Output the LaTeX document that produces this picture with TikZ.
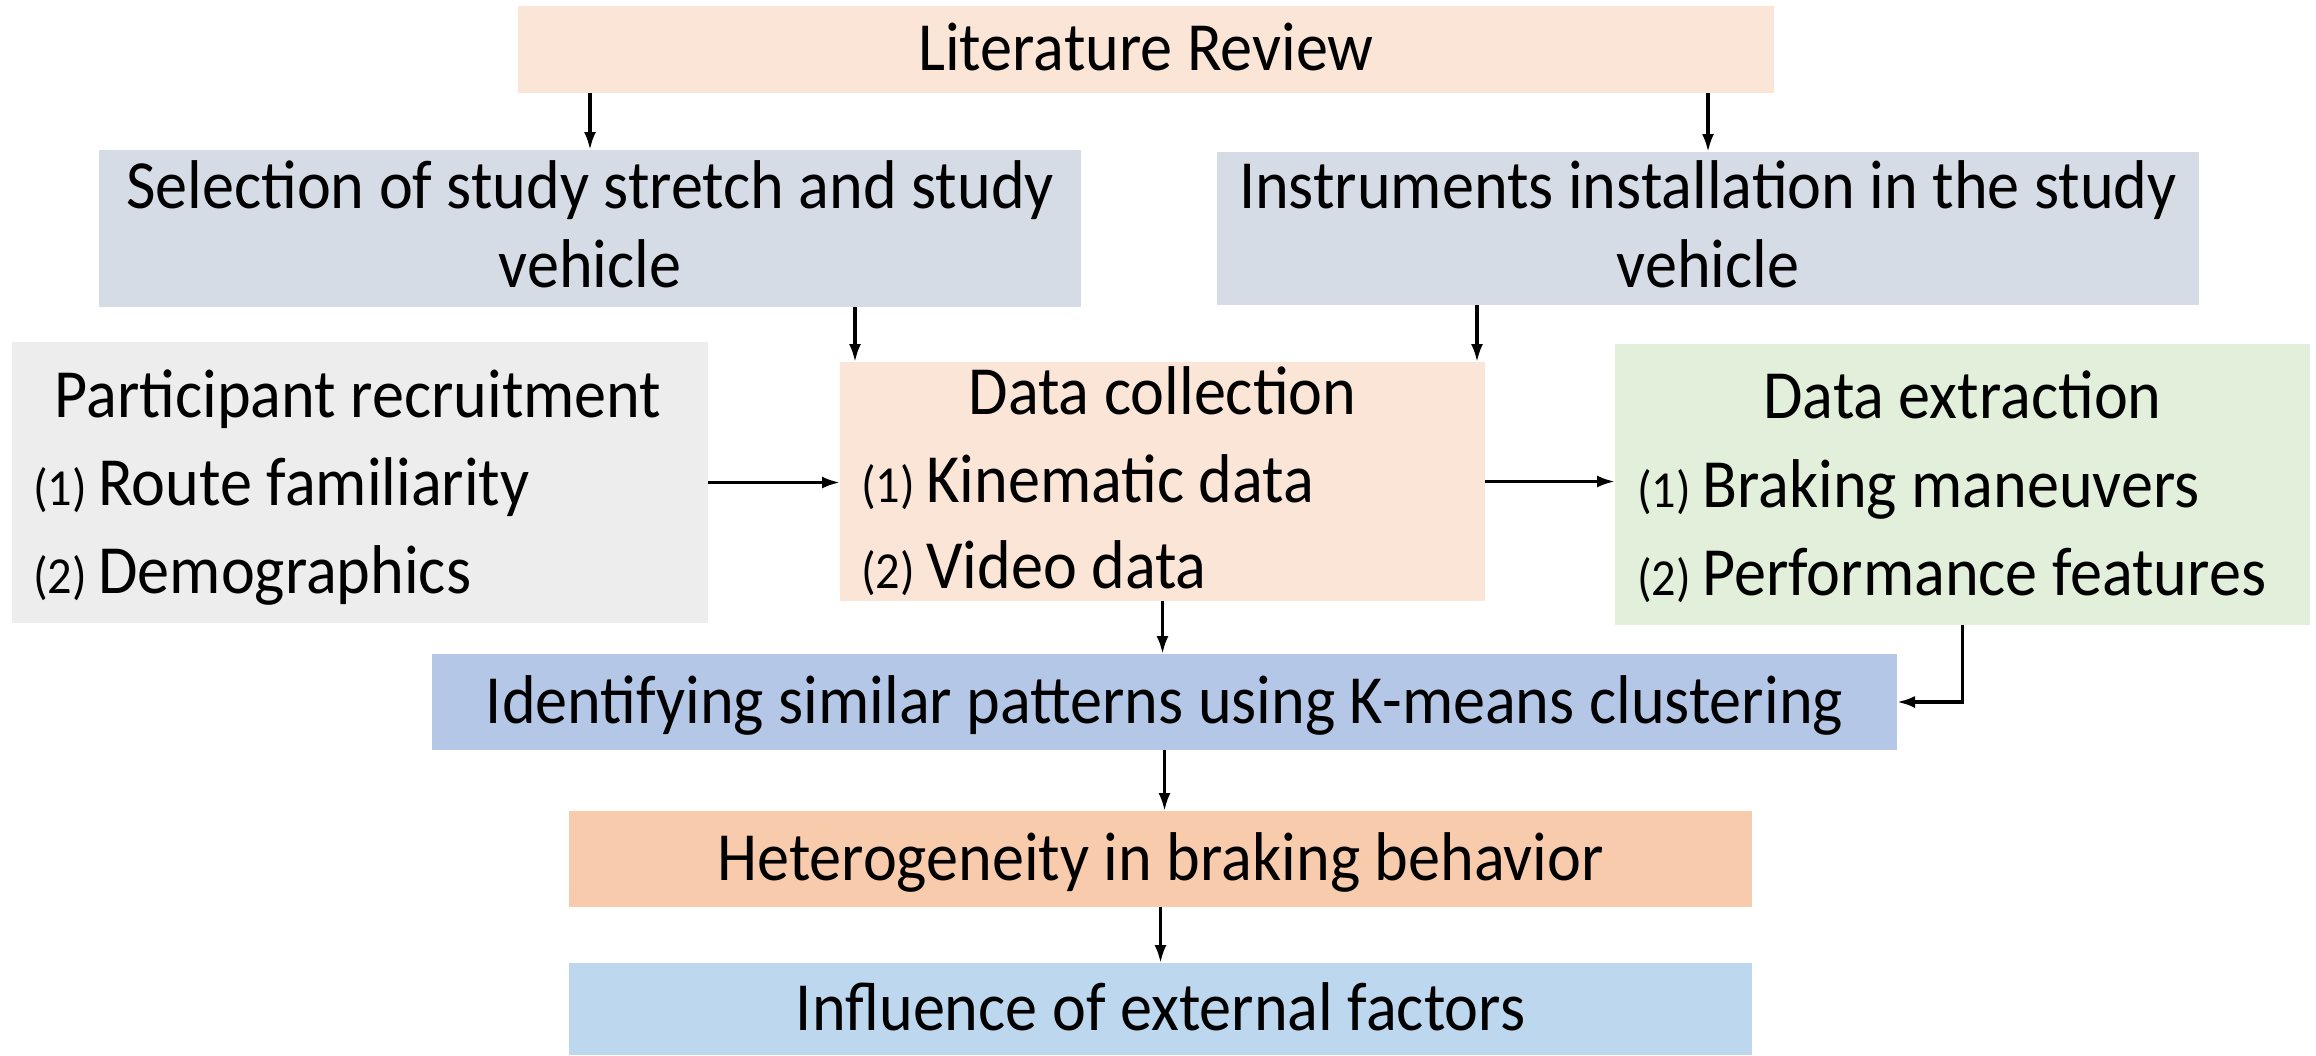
\documentclass[tikz,border=0pt]{standalone}
\usepackage{fontspec}
\setmainfont{Carlito}[FakeStretch=0.93]
\usetikzlibrary{arrows.meta}
\definecolor{cpeach}{HTML}{FBE5D6}
\definecolor{cgreyblue}{HTML}{D6DCE5}
\definecolor{cgrey}{HTML}{EDEDED}
\definecolor{cgreen}{HTML}{E2EFDA}
\definecolor{cblue}{HTML}{B4C7E7}
\definecolor{corange}{HTML}{F8CBAD}
\definecolor{clightblue}{HTML}{BDD7EE}
\newcommand{\mainsize}{\fontsize{34.5pt}{39.5pt}\selectfont}
\newcommand{\numsize}{\fontsize{26pt}{26pt}\selectfont}
\newcommand{\itm}[2]{{\numsize(#1)}\,#2}
\begin{document}
\begin{tikzpicture}[x=0.5pt,y=-0.5pt,
  box/.style={draw=none,inner sep=0pt,outer sep=0pt,rectangle},
  txt/.style={inner sep=0pt,outer sep=0pt,font=\mainsize},
  arr/.style={draw=black,line width=1.6pt,-{Latex[length=9pt,width=6pt]}}]
\useasboundingbox (0,0) rectangle (2316,1055);
% boxes
\node[box,fill=cpeach,minimum width=628pt,minimum height=43.5pt] (lit) at (1146,49.5) {};
\node[box,fill=cgreyblue,minimum width=491pt,minimum height=78.5pt] (sel) at (590,228.5) {};
\node[box,fill=cgreyblue,minimum width=491pt,minimum height=76.5pt] (ins) at (1708,228.5) {};
\node[box,fill=cgrey,minimum width=348pt,minimum height=140.5pt] (part) at (360,482.5) {};
\node[box,fill=cpeach,minimum width=322.5pt,minimum height=119.5pt] (dc) at (1162.5,481.5) {};
\node[box,fill=cgreen,minimum width=347.5pt,minimum height=140.5pt] (de) at (1962.5,484.5) {};
\node[box,fill=cblue,minimum width=732.5pt,minimum height=48pt] (idf) at (1164.5,702) {};
\node[box,fill=corange,minimum width=591.5pt,minimum height=48pt] (het) at (1160.5,859) {};
\node[box,fill=clightblue,minimum width=591.5pt,minimum height=46pt] (inf) at (1160.5,1009) {};
% texts
\node[txt,anchor=base] (litT) at (1146,70) {Literature Review};
\node[txt,anchor=base] (selT1) at (590,208) {Selection of study stretch and study};
\node[txt,anchor=base] (selT2) at (590,287) {vehicle};
\node[txt,anchor=base] (insT1) at (1708,208) {Instruments installation in the study};
\node[txt,anchor=base] (insT2) at (1708,287) {vehicle};
\node[txt,anchor=base] (partT) at (358,417) {Participant recruitment};
\node[txt,anchor=base west] (partA) at (33,505) {\itm{1}{Route familiarity}};
\node[txt,anchor=base west] (partB) at (33,593) {\itm{2}{Demographics}};
\node[txt,anchor=base] (dcT) at (1162.5,414) {Data collection};
\node[txt,anchor=base west] (dcA) at (861,502) {\itm{1}{Kinematic data}};
\node[txt,anchor=base west] (dcB) at (861,588) {\itm{2}{Video data}};
\node[txt,anchor=base] (deT) at (1962.5,418) {Data extraction};
\node[txt,anchor=base west] (deA) at (1637,507) {\itm{1}{Braking maneuvers}};
\node[txt,anchor=base west] (deB) at (1637,595) {\itm{2}{Performance features}};
\node[txt,anchor=base] (idfT) at (1164.5,723) {Identifying similar patterns using K-means clustering};
\node[txt,anchor=base] (hetT) at (1160.5,880) {Heterogeneity in braking behavior};
\node[txt,anchor=base] (infT) at (1160.5,1030) {Influence of external factors};
% connectors
\draw[arr] (sel.north |- lit.south) -- (sel.north);
\draw[arr] (ins.north |- lit.south) -- (ins.north);
\draw[arr] ([xshift=132.5pt]sel.south) -- ([xshift=132.5pt]sel.south |- dc.north);
\draw[arr] ([xshift=-115.5pt]ins.south) -- ([xshift=-115.5pt]ins.south |- dc.north);
\draw[arr] (part.east) -- (part.east -| dc.west);
\draw[arr] (dc.east) -- (dc.east -| de.west);
\draw[arr] (dc.south) -- (dc.south |- idf.north);
\draw[arr] (de.south) -- (de.south |- idf.east) -- (idf.east);
\draw[arr] (idf.south) -- (idf.south |- het.north);
\draw[arr] (het.south) -- (het.south |- inf.north);
\end{tikzpicture}
\end{document}
